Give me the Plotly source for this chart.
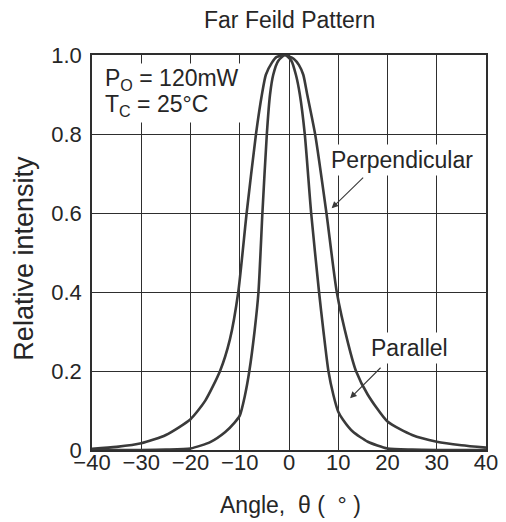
import plotly.graph_objects as go

# Perpendicular (wide) curve
perp_angle = [-40, -35, -30, -25, -20, -17, -14, -12, -10.3, -8.6, -6.7, -5.5, -4.7, -3.5, -2.5,
              -0.8, 1.0, 2.0, 2.9, 3.7, 5.3, 7.6, 9.7, 12, 13.6, 16, 20, 25, 30, 35, 40]
perp_value = [0.003, 0.008, 0.017, 0.038, 0.078, 0.125, 0.2, 0.28, 0.4, 0.6, 0.8, 0.9, 0.95, 0.98, 0.995,
              1.0, 0.99, 0.975, 0.95, 0.9, 0.8, 0.6, 0.4, 0.27, 0.2, 0.14, 0.072, 0.038, 0.021, 0.012, 0.006]

# Parallel (narrow) curve
para_angle = [-40, -30, -25, -20, -16, -13, -11, -10, -9, -8.05, -7, -6.2, -5.4, -4.5, -3.85, -3.2, -2.2,
              -0.8, 0.5, 1.4, 2.2, 3.2, 4.5, 6.1, 7, 8.0, 9, 10, 11, 13, 16, 20, 25, 30, 40]
para_value = [0, 0, 0.001, 0.004, 0.02, 0.045, 0.07, 0.087, 0.135, 0.2, 0.3, 0.4, 0.6, 0.8, 0.9, 0.95, 0.985,
              1.0, 0.985, 0.95, 0.9, 0.8, 0.6, 0.4, 0.3, 0.2, 0.14, 0.097, 0.076, 0.046, 0.021, 0.004, 0.001, 0, 0]

x_ticks = [-40, -30, -20, -10, 0, 10, 20, 30, 40]
x_tick_text = ["\u221240", "\u221230", "\u221220", "\u221210", "0", "10", "20", "30", "40"]
y_ticks = [0, 0.2, 0.4, 0.6, 0.8, 1.0]
y_tick_text = ["0", "0.2", "0.4", "0.6", "0.8", "1.0"]

FONT = "Liberation Sans, Arial, sans-serif"
TXT = "#262626"
LINE = "#3a3a3a"
GRID = "#2e2e2e"

fig = go.Figure()
fig.add_trace(go.Scatter(x=perp_angle, y=perp_value, mode="lines",
                         line=dict(color=LINE, width=2.6, shape="spline", smoothing=0.6),
                         name="Perpendicular", hoverinfo="skip"))
fig.add_trace(go.Scatter(x=para_angle, y=para_value, mode="lines",
                         line=dict(color=LINE, width=2.6, shape="spline", smoothing=0.6),
                         name="Parallel", hoverinfo="skip"))

axis_common = dict(showgrid=True, gridcolor=GRID, gridwidth=1.3, zeroline=False, automargin=False,
                   showline=True, linecolor=GRID, linewidth=1.6, mirror=True, ticks="",
                   tickfont=dict(family=FONT, size=22, color=TXT))

fig.update_xaxes(range=[-40, 40], tickmode="array", tickvals=x_ticks, ticktext=x_tick_text,
                 ticklabelstandoff=-8, **axis_common)
fig.update_yaxes(range=[0, 1.0], tickmode="array", tickvals=y_ticks, ticktext=y_tick_text,
                 ticklabelstandoff=4, **axis_common)

annotations = [
    dict(text="Far Feild Pattern", xref="paper", yref="paper", x=0.5, y=1.0, yshift=35,
         showarrow=False, font=dict(family=FONT, size=23, color=TXT), xanchor="center", yanchor="middle"),
    dict(text="Relative intensity", xref="paper", yref="paper", x=-0.1726, y=0.487, textangle=-90,
         showarrow=False, font=dict(family=FONT, size=27, color=TXT), xanchor="center", yanchor="middle"),
    dict(text="Angle,  \u03b8 (  \u00b0 )", xref="paper", yref="paper", x=0.505, y=0, yshift=-55,
         showarrow=False, font=dict(family=FONT, size=23, color=TXT), xanchor="center", yanchor="middle"),
    # white background behind the condition text
    dict(text=" ", xref="x", yref="y", x=-24.1, y=0.904, xanchor="center", yanchor="middle",
         width=148, height=58, showarrow=False, bgcolor="white", borderpad=0,
         font=dict(family=FONT, size=10, color="white")),
    dict(text="P<sub>O</sub> = 120mW", xref="x", yref="y", x=-37.7, y=0.937, xanchor="left", yanchor="middle",
         showarrow=False, font=dict(family=FONT, size=23, color=TXT)),
    dict(text="T<sub>C</sub> = 25\u00b0C", xref="x", yref="y", x=-37.7, y=0.873, xanchor="left", yanchor="middle",
         showarrow=False, font=dict(family=FONT, size=23, color=TXT)),
    dict(text="Perpendicular", xref="x", yref="y", x=22.9, y=0.734, xanchor="center", yanchor="middle",
         showarrow=False, bgcolor="white", borderpad=2, font=dict(family=FONT, size=23, color=TXT)),
    dict(text="Parallel", xref="x", yref="y", x=24.4, y=0.258, xanchor="center", yanchor="middle",
         showarrow=False, bgcolor="white", borderpad=2, font=dict(family=FONT, size=23, color=TXT)),
    dict(text="", xref="x", yref="y", x=8.66, y=0.612, ax=33, ay=-32, showarrow=True,
         arrowhead=2, arrowsize=1.2, arrowwidth=1.1, arrowcolor=LINE),
    dict(text="", xref="x", yref="y", x=12.4, y=0.131, ax=32, ay=-32, showarrow=True,
         arrowhead=2, arrowsize=1.2, arrowwidth=1.1, arrowcolor=LINE),
]

# the page body has an 8px margin, so the figure starts 8px in from the window's corner
fig.update_layout(width=498, height=514, margin=dict(l=84, r=20, t=47, b=72),
                  plot_bgcolor="white", paper_bgcolor="white", showlegend=False,
                  annotations=annotations, font=dict(family=FONT, color=TXT))

fig.write_html("out.html")
